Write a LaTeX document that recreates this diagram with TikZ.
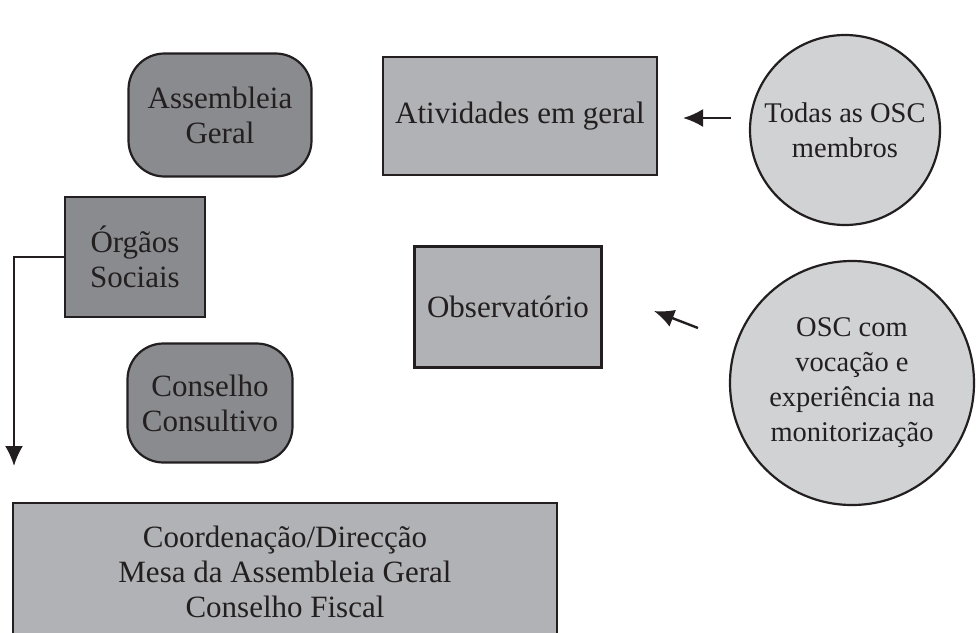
\documentclass[tikz,border=0pt]{standalone}
\usepackage{fontspec}
\setmainfont{Liberation Serif}
\usetikzlibrary{arrows.meta,positioning}
\definecolor{darkgrey}{HTML}{8A8B8F}
\definecolor{midgrey}{HTML}{B1B2B5}
\definecolor{lightgrey}{HTML}{D1D2D4}
\definecolor{ink}{HTML}{231F20}

\begin{document}
\begin{tikzpicture}[x=1pt, y=-1pt,
  every node/.style={font=\fontsize{31}{35}\selectfont, align=center, text=ink, inner sep=0pt},
  organ/.style={draw=ink, line width=2.2pt, fill=darkgrey, rounded corners=36pt},
  social/.style={draw=ink, line width=2.2pt, fill=darkgrey},
  activity/.style={draw=ink, line width=2.2pt, fill=midgrey},
  members/.style={circle, draw=ink, line width=2.2pt, fill=lightgrey, font=\fontsize{28.5}{35}\selectfont},
  conn/.style={draw=ink, line width=2.4pt, -{Latex[length=20pt,width=18pt]}}]

\clip (0,0) rectangle (976,632);

% Left side: organs

\node (assembleia) at (220,115) [organ, minimum width=183pt, minimum height=123pt] {Assembleia\\Geral};
\node (orgaos) at (135,257) [social, minimum width=140pt, minimum height=120pt] {Órgãos\\Sociais};
\node (conselho) at (210,403) [organ, minimum width=165pt, minimum height=119pt] {Conselho\\Consultivo};

\node (mesa) at (285,580) [activity, minimum width=544pt, minimum height=154pt, text depth=0pt] {};
\node at (285,572) {Coordenação/Direcção\\Mesa da Assembleia Geral\\Conselho Fiscal};

\coordinate (down) at (14,466);
\draw[conn] (orgaos.west) -| (down);

% Right side: activities and members

\node (atividades) at (520,116) [activity, minimum width=274pt, minimum height=118pt] {Atividades em geral};
\node (observatorio) at (508,307) [activity, minimum width=187pt, minimum height=121pt] {Observatório};

\node (todas) at (845,130) [members, minimum size=190pt] {Todas as OSC\\membros};
\node (osc) at (852,383) [members, minimum size=244pt] {OSC com\\vocação e\\experiência na\\monitorização};

\coordinate (t1) at (731,118);
\coordinate (t2) at (683,118);
\draw[conn] (t1) -- (t2);

\coordinate (o1) at (698,328);
\coordinate (o2) at (654,311);
\draw[conn] (o1) -- (o2);

\end{tikzpicture}
\end{document}
